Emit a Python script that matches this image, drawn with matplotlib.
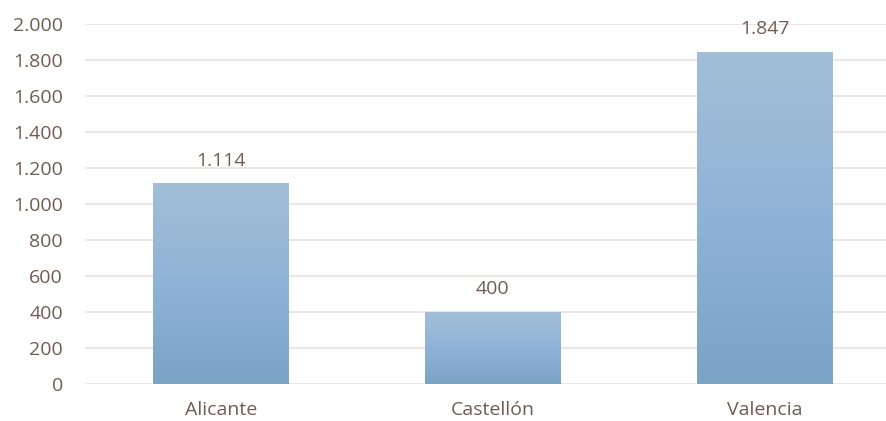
import numpy as np
import matplotlib
matplotlib.use("Agg")
from matplotlib import pyplot as plt
from matplotlib.ticker import FuncFormatter
from matplotlib.colors import LinearSegmentedColormap

provincias = ["Alicante", "Castellón", "Valencia"]
valores = [1114, 400, 1847]
yticks = [0, 200, 400, 600, 800, 1000, 1200, 1400, 1600, 1800, 2000]

txt_color = "#715c52"
grid_color = "#ebe5e3"

plt.rcParams["font.family"] = ["Open Sans", "DejaVu Sans"]


def miles(v, pos=None):
    return f"{int(v):,}".replace(",", ".")


fig = plt.figure(figsize=(8.87, 4.21), dpi=100)
ax = fig.add_axes([85 / 887, 1 - 384 / 421, 802 / 887, 360 / 421])

x = np.arange(len(provincias))
barras = ax.bar(x, valores, width=0.5, color="none", edgecolor="none", zorder=3)

# degradado vertical en cada barra
cmap = LinearSegmentedColormap.from_list("azul", ["#7aa3c6", "#8fb3d6", "#a3bfd8"])
grad = np.linspace(0, 1, 256).reshape(-1, 1)
for b in barras:
    x0, w, h = b.get_x(), b.get_width(), b.get_height()
    im = ax.imshow(grad, extent=[x0, x0 + w, 0, h], origin="lower", cmap=cmap,
                   aspect="auto", zorder=3)
    im.set_clip_path(b)

for xi, v in zip(x, valores):
    ax.annotate(miles(v), (xi, v), xytext=(0, 10), textcoords="offset points",
                ha="center", va="bottom", fontsize=14, color=txt_color)

ax.set_xlim(-0.5, 2.45)
ax.set_ylim(0, 2000)
ax.set_yticks(yticks)
ax.yaxis.set_major_formatter(FuncFormatter(miles))
ax.set_xticks(x)
ax.set_xticklabels(provincias)
ax.grid(axis="y", color=grid_color, linewidth=1.5, zorder=0)
ax.set_axisbelow(True)
for s in ax.spines.values():
    s.set_visible(False)
ax.tick_params(axis="both", length=0, labelsize=14, labelcolor=txt_color)
ax.tick_params(axis="x", pad=12)
ax.tick_params(axis="y", pad=16)

fig.savefig("out.png", dpi=100)
